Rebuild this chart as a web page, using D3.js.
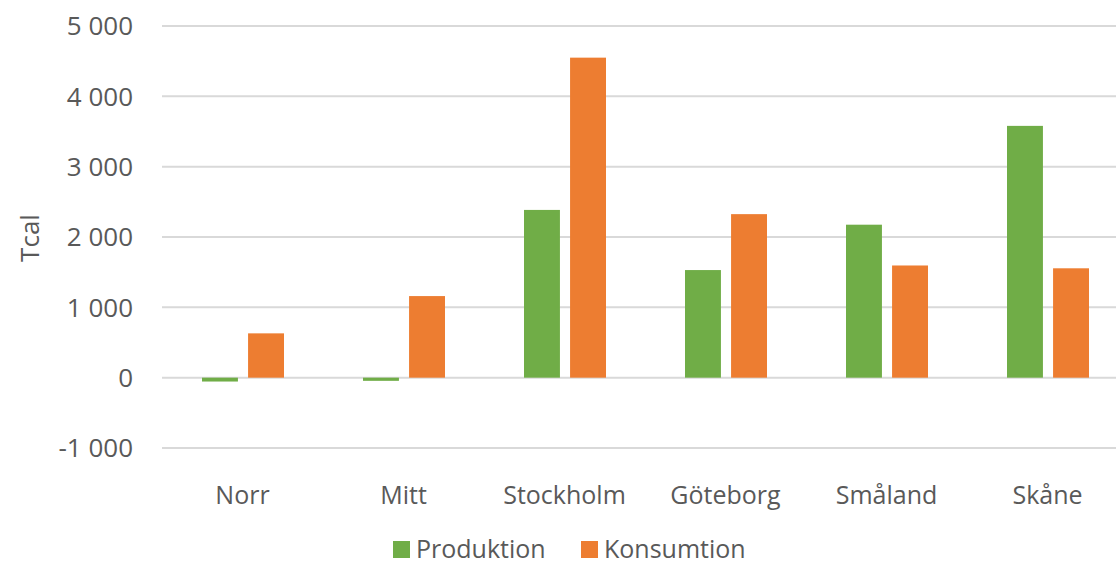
<!DOCTYPE html>
<html>
<head>
<meta charset="utf-8">
<script src="https://cdn.jsdelivr.net/npm/d3@7"></script>
<style>
  body { margin: 0; background: #fff; }
  text { font-family: "Open Sans", sans-serif; fill: #595959; }
</style>
</head>
<body>
<svg id="chart" width="1116" height="564"></svg>
<script>
// Values (Tcal)
let regions = ["Norr", "Mitt", "Stockholm", "Göteborg", "Småland", "Skåne"];
let produktion = [-55, -45, 2385, 1530, 2175, 3580];
let konsumtion = [630, 1160, 4550, 2325, 1595, 1555];
let seriesNames = ["Produktion", "Konsumtion"];
let seriesColors = ["#70AD47", "#ED7D31"];
let yTicks = [-1000, 0, 1000, 2000, 3000, 4000, 5000];

let svg = d3.select("#chart");

let x = d3.scaleBand().domain(regions).range([162, 1128]);
let inner = d3.scaleBand().domain(seriesNames).range([40, 122]).paddingInner(0.22);
let y = d3.scaleLinear().domain([-1000, 5000]).range([448, 26]);

// space as thousands separator, plain hyphen for minus
let fmt = d => d3.format(",")(d).replace(/,/g, " ").replace("\u2212", "-");

// Gridlines
svg.append("g")
    .selectAll("line")
    .data(yTicks)
    .enter()
    .append("line")
    .attr("x1", 162)
    .attr("x2", 1116)
    .attr("y1", d => y(d))
    .attr("y2", d => y(d))
    .attr("stroke", "#d9d9d9")
    .attr("stroke-width", 2);

// Y tick labels
svg.append("g")
    .selectAll("text")
    .data(yTicks)
    .enter()
    .append("text")
    .attr("x", 133)
    .attr("y", d => y(d))
    .attr("dy", "0.36em")
    .attr("text-anchor", "end")
    .attr("font-size", 26)
    .text(fmt);

// Y axis title
svg.append("text")
    .attr("transform", "translate(39,238) rotate(-90)")
    .attr("text-anchor", "middle")
    .attr("font-size", 26)
    .text("Tcal");

// Bars
let rows = regions.map((r, i) => ({region: r, values: [produktion[i], konsumtion[i]]}));

let groups = svg.append("g")
    .selectAll("g")
    .data(rows)
    .enter()
    .append("g")
    .attr("transform", d => "translate(" + x(d.region) + ",0)");

groups.selectAll("rect")
    .data(d => d.values.map((v, j) => ({name: seriesNames[j], value: v, color: seriesColors[j]})))
    .enter()
    .append("rect")
    .attr("x", d => inner(d.name))
    .attr("width", inner.bandwidth())
    .attr("y", d => y(Math.max(0, d.value)))
    .attr("height", d => Math.abs(y(d.value) - y(0)))
    .attr("fill", d => d.color);

// X labels
svg.append("g")
    .selectAll("text")
    .data(regions)
    .enter()
    .append("text")
    .attr("x", d => x(d) + x.bandwidth() / 2)
    .attr("y", 504)
    .attr("text-anchor", "middle")
    .attr("font-size", 25)
    .text(d => d);

// Legend
let legendX = [393, 581];
let legend = svg.append("g")
    .selectAll("g")
    .data(seriesNames)
    .enter()
    .append("g")
    .attr("transform", (d, i) => "translate(" + legendX[i] + ",0)");

legend.append("rect")
    .attr("y", 541)
    .attr("width", 17)
    .attr("height", 17)
    .attr("fill", (d, i) => seriesColors[i]);

legend.append("text")
    .attr("x", 23)
    .attr("y", 549)
    .attr("dy", "0.35em")
    .attr("font-size", 25)
    .text(d => d);
</script>
</body>
</html>
